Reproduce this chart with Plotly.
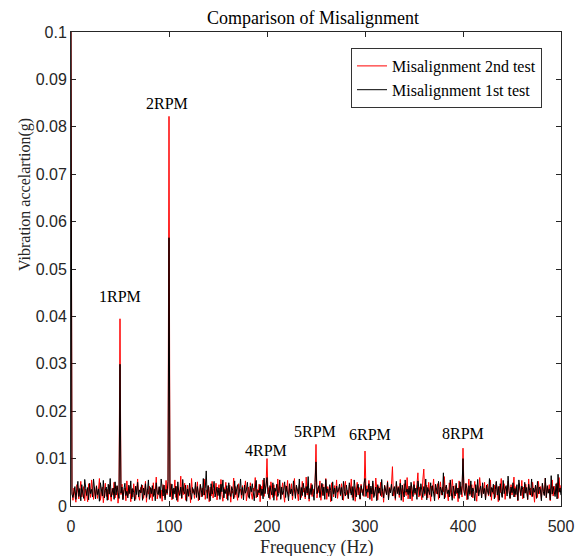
import numpy as np
import plotly.graph_objects as go

# Spectrum amplitudes in units of 1e-4 g, one value per 1 Hz (0..500 Hz)
red_e4 = [
    1000, 31, 12, 38, 22, 8, 45, 27, 15, 33, 52, 19, 28, 41, 11, 36, 24, 9, 47, 30, 18, 55, 26, 14, 39,
    21, 43, 16, 34, 58, 12, 29, 40, 7, 25, 48, 20, 35, 13, 44, 27, 10, 37, 23, 50, 17, 32, 42, 6, 28,
    395, 24, 46, 15, 31, 38, 11, 53, 22, 29, 41, 9, 36, 19, 47, 26, 14, 33, 57, 21, 12, 39, 28, 44, 16,
    30, 52, 8, 35, 25, 42, 18, 37, 11, 49, 23, 31, 61, 15, 27, 40, 20, 34, 10, 45, 29, 17, 54, 24, 38,
    822, 22, 47, 13, 36, 29, 55, 18, 41, 9, 33, 26, 63, 15, 39, 24, 48, 12, 31, 44, 20, 37, 7, 58, 27,
    35, 16, 42, 25, 51, 11, 30, 46, 19, 38, 23, 57, 14, 34, 28, 43, 9, 40, 21, 52, 17, 36, 26, 48, 13,
    32, 45, 20, 56, 24, 10, 39, 29, 50, 15, 37, 22, 44, 8, 33, 27, 59, 18, 41, 25, 12, 47, 30, 36, 16,
    43, 21, 34, 53, 11, 28, 40, 19, 49, 26, 14, 38, 31, 60, 17, 35, 23, 46, 9, 42, 27, 55, 20, 33, 44,
    100, 25, 39, 14, 51, 30, 18, 45, 22, 36, 12, 57, 28, 41, 16, 34, 49, 24, 8, 43, 31, 54, 19, 37, 26,
    47, 13, 32, 58, 21, 40, 27, 11, 45, 35, 18, 52, 29, 38, 15, 61, 23, 42, 10, 33, 48, 20, 36, 26, 44,
    130, 17, 39, 28, 53, 12, 35, 46, 22, 31, 58, 14, 41, 25, 37, 9, 49, 30, 19, 43, 27, 55, 16, 34, 40,
    21, 47, 29, 12, 38, 52, 24, 33, 15, 44, 27, 57, 18, 36, 41, 10, 31, 50, 23, 39, 14, 46, 28, 35, 20,
    116, 32, 43, 17, 54, 26, 38, 11, 48, 29, 22, 59, 35, 13, 41, 27, 50, 19, 36, 8, 44, 31, 24, 53, 16,
    39, 28, 45, 83, 21, 34, 12, 49, 30, 41, 18, 56, 25, 37, 9, 47, 33, 22, 60, 15, 38, 27, 43, 11, 35,
    52, 24, 31, 46, 70, 19, 40, 28, 13, 55, 78, 22, 36, 44, 17, 50, 29, 10, 42, 33, 57, 20, 38, 26, 47,
    14, 35, 51, 23, 40, 30, 62, 18, 44, 27, 11, 49, 36, 21, 56, 32, 16, 43, 25, 38, 9, 53, 29, 41, 19,
    122, 34, 26, 48, 13, 39, 57, 22, 31, 45, 17, 36, 52, 28, 10, 43, 24, 60, 33, 19, 41, 27, 50, 15, 37,
    46, 21, 30, 55, 12, 38, 25, 44, 18, 51, 33, 9, 42, 28, 58, 20, 35, 47, 14, 39, 26, 53, 31, 16, 45,
    23, 37, 61, 19, 41, 29, 11, 48, 34, 22, 54, 15, 40, 27, 46, 32, 13, 57, 24, 38, 20, 50, 30, 8, 43,
    36, 18, 52, 26, 41, 14, 47, 31, 23, 59, 17, 39, 28, 45, 11, 34, 55, 21, 42, 25, 37, 49, 16, 60, 30,
    44,
]

black_e4 = [
    1000, 25, 18, 33, 41, 14, 29, 52, 20, 37, 11, 45, 27, 16, 56, 31, 22, 39, 13, 48, 26, 35, 19, 57, 30,
    15, 42, 24, 36, 10, 49, 28, 21, 54, 17, 33, 40, 12, 46, 25, 58, 19, 31, 38, 14, 51, 23, 43, 29, 16,
    299, 27, 40, 13, 35, 48, 22, 31, 17, 44, 26, 53, 15, 37, 29, 11, 42, 24, 50, 19, 34, 28, 45, 12, 38,
    23, 47, 18, 32, 55, 14, 39, 26, 43, 20, 36, 11, 49, 29, 24, 41, 16, 57, 31, 21, 44, 13, 35, 27, 52,
    566, 19, 33, 46, 15, 38, 25, 42, 12, 51, 29, 22, 40, 17, 56, 31, 26, 44, 10, 36, 21, 48, 28, 14, 39,
    33, 24, 50, 18, 41, 27, 13, 45, 34, 20, 58, 23, 37, 74, 16, 43, 29, 11, 47, 25, 36, 52, 19, 32, 40,
    22, 38, 14, 46, 30, 55, 17, 35, 26, 43, 12, 49, 28, 20, 41, 33, 15, 53, 24, 37, 45, 18, 31, 57, 23,
    39, 13, 44, 27, 34, 50, 21, 16, 42, 30, 47, 25, 11, 38, 54, 19, 33, 28, 45, 22, 36, 15, 59, 26, 41,
    60, 29, 17, 43, 35, 23, 49, 12, 38, 31, 46, 20, 27, 55, 14, 40, 24, 33, 51, 18, 42, 30, 11, 47, 26,
    36, 21, 53, 28, 16, 44, 32, 25, 57, 13, 39, 22, 48, 34, 19, 41, 27, 62, 15, 37, 24, 45, 30, 12, 50,
    93, 26, 35, 43, 18, 31, 48, 22, 40, 14, 56, 28, 36, 20, 45, 33, 11, 51, 25, 38, 17, 42, 29, 34, 46,
    24, 39, 13, 52, 30, 21, 44, 27, 16, 49, 35, 23, 41, 12, 55, 31, 19, 37, 46, 26, 15, 43, 33, 22, 48,
    58, 20, 36, 29, 47, 14, 42, 25, 53, 18, 33, 40, 11, 45, 27, 38, 22, 56, 30, 17, 43, 35, 24, 50, 13,
    37, 28, 46, 21, 34, 41, 16, 52, 26, 39, 23, 48, 12, 44, 31, 19, 55, 29, 36, 24, 42, 15, 50, 33, 20,
    45, 27, 38, 14, 53, 30, 22, 47, 35, 18, 41, 26, 57, 13, 39, 32, 24, 49, 20, 43, 28, 11, 46, 36, 25,
    52, 17, 40, 31, 23, 70, 15, 37, 44, 26, 34, 19, 55, 29, 12, 42, 33, 21, 48, 27, 38, 16, 51, 24, 40,
    100, 30, 22, 47, 36, 14, 43, 25, 53, 19, 38, 31, 11, 45, 28, 56, 21, 34, 42, 17, 49, 26, 37, 13, 44,
    32, 24, 58, 20, 39, 29, 46, 15, 35, 52, 23, 41, 12, 47, 30, 18, 54, 26, 36, 43, 21, 63, 33, 16, 40,
    28, 49, 19, 37, 24, 45, 12, 55, 31, 22, 42, 35, 17, 50, 27, 39, 14, 46, 33, 23, 57, 20, 38, 29, 44,
    16, 52, 26, 40, 34, 11, 48, 30, 22, 59, 18, 43, 27, 36, 13, 64, 25, 41, 32, 20, 47, 15, 67, 29, 38,
    23,
]

ann_labels = ["1RPM", "2RPM", "4RPM", "5RPM", "6RPM", "8RPM"]
ann_x = [50, 98, 199, 249, 305, 399.5]
ann_y = [0.0441, 0.085, 0.0118, 0.0157, 0.0150, 0.0153]

x_ticks = [0, 100, 200, 300, 400, 500]
y_ticks = [0, 0.01, 0.02, 0.03, 0.04, 0.05, 0.06, 0.07, 0.08, 0.09, 0.1]
y_ticktext = ["0", "0.01", "0.02", "0.03", "0.04", "0.05", "0.06", "0.07", "0.08", "0.09", "0.1"]

assert len(red_e4) == 501, len(red_e4)
assert len(black_e4) == 501, len(black_e4)

freq = np.arange(len(red_e4))  # 1 Hz bins
red = np.array(red_e4) * 1e-4
black = np.array(black_e4) * 1e-4

SERIF = "Liberation Serif"
SANS = "Liberation Sans"
AX = "#262626"

W, H = 580, 556
L, R, T, B = 71, 19, 32, 50
PW, PH = W - L - R, H - T - B

fig = go.Figure()
fig.add_trace(go.Scatter(x=freq, y=red, mode="lines", name="Misalignment 2nd test",
                         line=dict(color="#ff0000", width=1)))
fig.add_trace(go.Scatter(x=freq, y=black, mode="lines", name="Misalignment 1st test",
                         line=dict(color="#000000", width=1)))

for t, x, y in zip(ann_labels, ann_x, ann_y):
    fig.add_annotation(x=x, y=y, text=t, showarrow=False,
                       font=dict(family=SERIF, size=16, color="#000000"))

# axis titles placed as in the reference
fig.add_annotation(xref="paper", yref="paper", x=(316 - L) / PW, y=(H - B - 547) / PH,
                   text="Frequency (Hz)", showarrow=False, xanchor="center", yanchor="middle",
                   font=dict(family=SERIF, size=18, color=AX))
fig.add_annotation(xref="paper", yref="paper", x=(25 - L) / PW, y=(H - B - 195) / PH,
                   text="Vibration accelartion(g)", showarrow=False, textangle=-90,
                   xanchor="center", yanchor="middle",
                   font=dict(family=SERIF, size=16, color=AX))

fig.update_layout(
    template="none",
    width=W, height=H,
    margin=dict(l=L, r=R, t=T, b=B, autoexpand=False),
    paper_bgcolor="white", plot_bgcolor="white",
    font=dict(family=SERIF, color="#000000"),
    title=dict(text="Comparison of Misalignment", x=313 / W, xanchor="center",
               y=1 - 18 / H, yanchor="middle",
               font=dict(family=SERIF, size=18, color="#000000")),
    showlegend=True,
    legend=dict(x=(542 - L) / PW, xanchor="right", y=(H - B - 48) / PH, yanchor="top",
                bgcolor="white", bordercolor="#333333", borderwidth=1,
                font=dict(family=SERIF, size=16, color="#000000"),
                tracegroupgap=0),
    xaxis=dict(range=[0, 500], tickvals=x_ticks, automargin=False,
               ticks="inside", ticklen=5, tickcolor=AX, showline=True, linecolor=AX,
               linewidth=1, mirror="ticks", showgrid=False, zeroline=False,
               ticklabelstandoff=6, layer="below traces",
               tickfont=dict(family=SANS, size=16, color=AX)),
    yaxis=dict(range=[0, 0.1], tickvals=y_ticks, ticktext=y_ticktext, automargin=False,
               ticks="inside", ticklen=5, tickcolor=AX, showline=True, linecolor=AX,
               linewidth=1, mirror="ticks", showgrid=False, zeroline=False,
               layer="below traces",
               tickfont=dict(family=SANS, size=16, color=AX)),
)

fig.write_html("out.html")
